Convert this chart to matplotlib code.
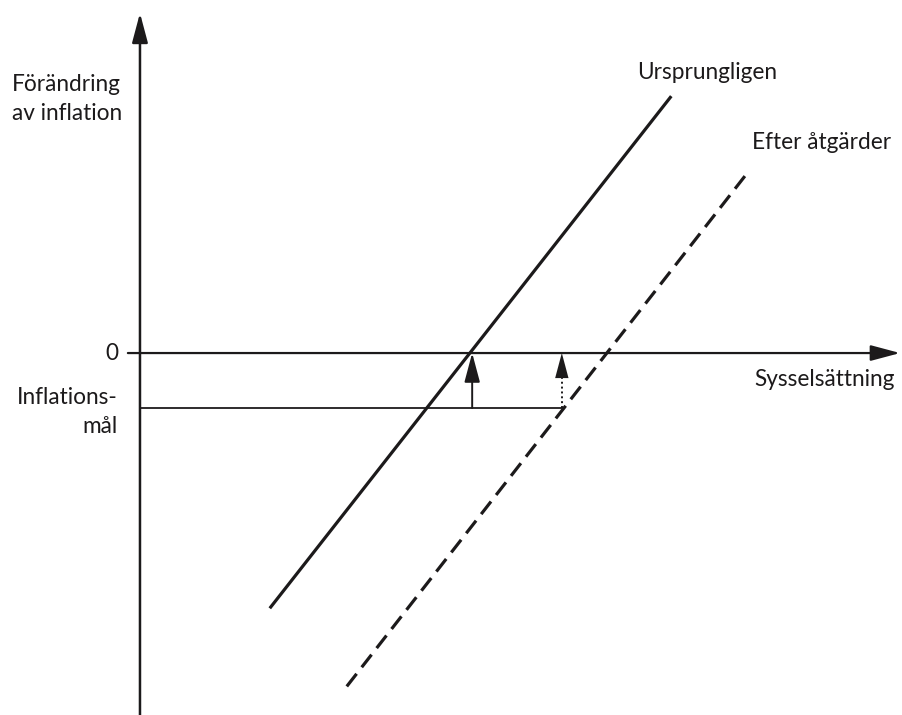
import matplotlib
matplotlib.use("Agg")
import matplotlib.pyplot as plt

# Schematic units: inflation target = -1 on the vertical axis
zero_level = 0.0
target_level = -1.0

# Curve endpoints (employment, change of inflation)
orig_x = [2.36, 9.66]
orig_y = [-4.64, 4.67]
after_x = [3.76, 11.04]
after_y = [-6.06, 3.27]

# Arrow positions (employment values)
arrow_orig_x = 6.04
arrow_after_x = 7.67

# Axis extents
y_axis_bottom, y_axis_top = -6.6, 6.18
x_axis_left, x_axis_right = -0.22, 13.82

ink = "#1c1a1b"
font = "Lato"

fig = plt.figure(figsize=(9.02, 7.15), dpi=100)
ax = fig.add_axes([0, 0, 1, 1])
ax.set_xlim(-2.545, 13.855)
ax.set_ylim(-6.58, 6.418)
ax.axis("off")

def head(x0, y0, x1, y1, ls="-", lw=1.6):
    ax.annotate("", xy=(x1, y1), xytext=(x0, y0),
                arrowprops=dict(arrowstyle="-|>,head_length=0.9,head_width=0.24",
                                mutation_scale=20, color=ink, lw=lw, ls=ls,
                                shrinkA=0, shrinkB=0))

# Axes
head(0, y_axis_bottom, 0, y_axis_top, lw=1.8)
head(x_axis_left, zero_level, x_axis_right, zero_level, lw=1.6)
# Target line
ax.plot([0, arrow_after_x], [target_level, target_level], color=ink, lw=1.3)

# Curves
ax.plot(orig_x, orig_y, color=ink, lw=2.3, solid_capstyle="butt")
ax.plot(after_x, after_y, color=ink, lw=2.3, dashes=(5, 2.6))

# Vertical arrows
head(arrow_orig_x, target_level, arrow_orig_x, zero_level, lw=1.4)
ax.plot([arrow_after_x, arrow_after_x], [target_level, -0.45], color=ink, lw=1.4, ls=(0, (1, 1.5)))
head(arrow_after_x, -0.44, arrow_after_x, zero_level, lw=0.01)

fs = 16.3
ls_ = 1.45
ax.text(12 / 55 - 2.545, (353 - 99) / 55, "Förändring\nav inflation", fontsize=fs,
        family=font, color=ink, ha="left", va="center", linespacing=ls_)
ax.text(-0.4, zero_level, "0", fontsize=fs, family=font, color=ink, ha="right", va="center")
ax.text(-0.4, -1.07, "Inflations-\nmål", fontsize=fs, family=font, color=ink,
        ha="right", va="center", multialignment="right", linespacing=ls_)
ax.text(13.73, -0.49, "Sysselsättning", fontsize=fs, family=font, color=ink, ha="right", va="center")
ax.text((637 - 140) / 55, (353 - 72) / 55, "Ursprungligen", fontsize=fs, family=font, color=ink,
        ha="left", va="center")
ax.text((752 - 140) / 55, (353 - 142) / 55, "Efter åtgärder", fontsize=fs, family=font, color=ink,
        ha="left", va="center")

fig.savefig("out.png", dpi=100)
